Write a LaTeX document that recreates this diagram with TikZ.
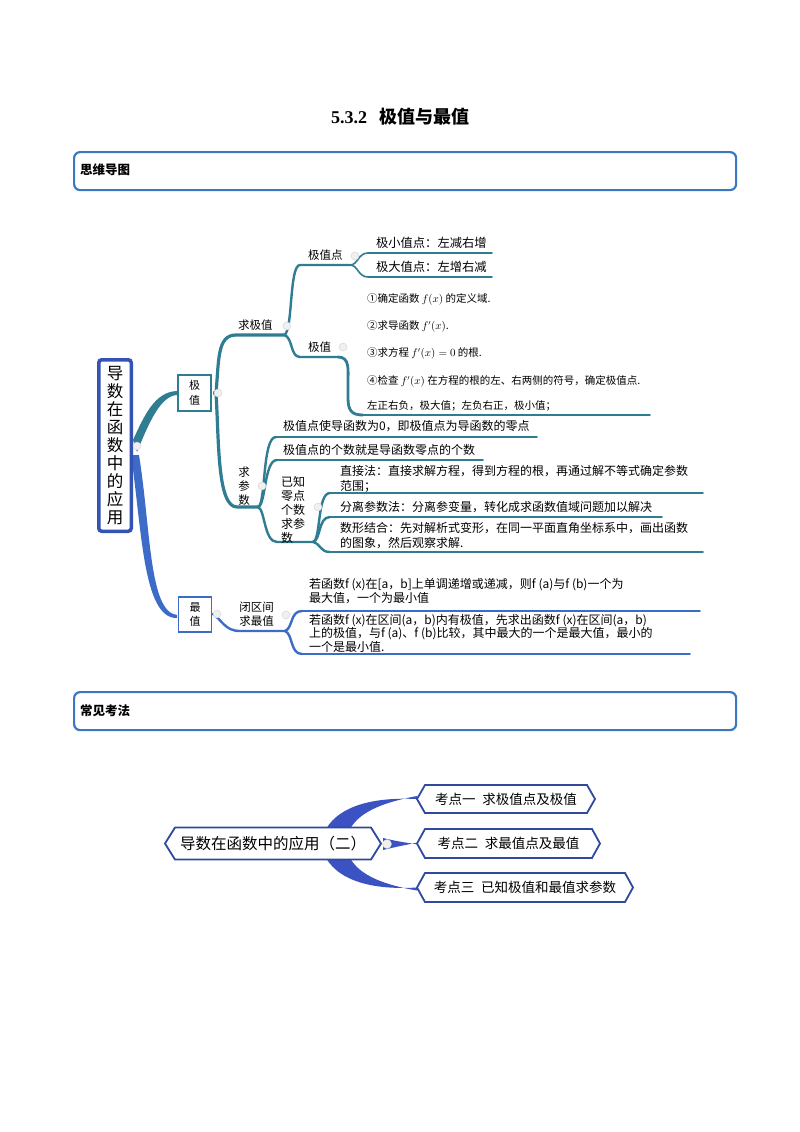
\documentclass[tikz,border=0pt]{standalone}
\usepackage{fontspec}
\setmainfont{Noto Sans CJK SC}
\newfontfamily\tnr{Liberation Serif}
\usetikzlibrary{calc}
\pgfdeclarelayer{bg}
\pgfsetlayers{bg,main}
\definecolor{hdr}{HTML}{3B78C2}
\definecolor{mainb}{HTML}{3552B5}
\definecolor{tealb}{HTML}{2E7D91}
\definecolor{blu}{HTML}{3C6CC8}
\definecolor{bblu}{HTML}{3B52C2}
\definecolor{dblu}{HTML}{2F4A9C}
\tikzset{
 txt/.style={anchor=west,inner sep=0pt,outer sep=0pt,font=\fontsize{12}{15}\selectfont,align=left},
 stp/.style={anchor=west,inner sep=0pt,outer sep=0pt,font=\fontsize{10.5}{13}\selectfont},
 lbl/.style={inner sep=0pt,outer sep=0pt,font=\fontsize{11.5}{14}\selectfont,align=center},
 tline/.style={draw=tealb,line width=1.6pt,line cap=round},
 tcurve/.style={draw=tealb,line width=2.4pt,line cap=round},
 bline/.style={draw=blu,line width=1.6pt,line cap=round},
 bcurve/.style={draw=blu,line width=2.4pt,line cap=round},
 dot/.style={circle,fill=gray!12,draw=gray!35,line width=0.4pt,minimum size=8pt,inner sep=0pt},
 hdrbox/.style={draw=hdr,line width=2.2pt,rounded corners=6pt,minimum width=662pt,minimum height=38pt,anchor=north west,inner sep=0pt},
 hdrtxt/.style={anchor=west,inner sep=0pt,font=\bfseries\fontsize{12.5}{14}\selectfont},
 hexb/.style={draw=dblu,line width=1.8pt,fill=white},
 hexnode/.style={inner sep=0pt,outer sep=0pt,align=center},
 smallbox/.style={line width=1.8pt,minimum width=33pt,minimum height=36pt,inner sep=0pt,align=center,fill=white,font=\fontsize{11}{15.5}\selectfont},
}
\begin{document}
\begin{tikzpicture}[x=1pt,y=-1pt]
\useasboundingbox (0,0) rectangle (800,1132);
\begin{pgfonlayer}{bg}
\fill[white] (0,0) rectangle (800,1132);
\end{pgfonlayer}

% title
\node[inner sep=0pt] (title) at (400,117) {\bfseries\fontsize{18}{20}\selectfont{\tnr 5.3.2}\hspace{12pt}极值与最值};

% header boxes
\node[hdrbox] (h1) at (73,151) {};
\node[hdrtxt] (h1t) at (80,170) {思维导图};
\node[hdrbox] (h2) at (73,691) {};
\node[hdrtxt] (h2t) at (80,711) {常见考法};

% ---------- mind map ----------
% root to branches (tapered)
\fill[tealb] (133,440) .. controls (145,414) and (155,392) .. (177,391)
  -- (177,395) .. controls (161,396) and (150,420) .. (137,452) -- cycle;
\fill[blu] (131,455) .. controls (142,530) and (143,619) .. (177,618)
  -- (177,615) .. controls (149,612) and (151,530) .. (139,455) -- cycle;

\node[draw=mainb,line width=3.5pt,rounded corners=3pt,minimum width=32.5pt,minimum height=171.5pt,inner sep=0pt,fill=white,align=center,font=\fontsize{16.5}{18.1}\selectfont] (root) at (115,445.5) {导\\数\\在\\函\\数\\中\\的\\应\\用};

% 极值 branch
\coordinate (jzs) at (213,393);
\coordinate (qjz) at (284,335);
\coordinate (qcs) at (258,507);
\draw[draw=tealb,line width=3.2pt] (jzs) -- (216,393) .. controls (219,360) and (217,335) .. (236,335) -- (qjz);
\draw[draw=tealb,line width=3.2pt] (216,393) .. controls (219,440) and (217,507) .. (237,507) -- (qcs);

\node[smallbox,draw=tealb] (jz) at (194.5,393) {极\\值};

% 求极值 fork
\coordinate (jzd) at (350,265);
\coordinate (jzv) at (338,357);
\draw[tcurve] (qjz) .. controls (293,333) and (289,265) .. (300,265) -- (jzd);
\draw[tcurve] (qjz) .. controls (293,337) and (290,357) .. (300,357) -- (jzv);
\node[lbl,anchor=west] (lqjz) at (238,325) {求极值};
\node[lbl,anchor=west] (ljzd) at (308,255) {极值点};
\node[lbl,anchor=west] (ljzv) at (308,347) {极值};

% 极值点 children
\draw[tline] (jzd) .. controls (358,265) and (358,253) .. (368,253) -- (492,253);
\draw[tline] (jzd) .. controls (358,265) and (358,277) .. (368,277) -- (492,277);
\node[txt,font=\fontsize{12.3}{15}\selectfont] (n1) at (376,243) {极小值点：左减右增};
\node[txt,font=\fontsize{12.3}{15}\selectfont] (n2) at (376,267) {极大值点：左增右减};

% 极值 steps
\draw[draw=tealb,line width=2.8pt,line cap=round] (jzv) .. controls (350,357) and (348,370) .. (348,382) -- (348,398) .. controls (348,411) and (352,415) .. (363,415);
\draw[tline] (362,415) -- (650,415);
\node[stp] (s1) at (367,299) {①确定函数 $f(x)$ 的定义域.};
\node[stp] (s2) at (367,326) {②求导函数 $f'(x)$.};
\node[stp] (s3) at (367,353) {③求方程 $f'(x)=0$ 的根.};
\node[stp] (s4) at (367,381) {④检查 $f'(x)$ 在方程的根的左、右两侧的符号，确定极值点.};
\node[stp] (s5) at (367,406) {左正右负，极大值；左负右正，极小值；};

% 求参数 fork
\coordinate (zl) at (313,542);
\draw[tcurve] (qcs) .. controls (266,505) and (262,437) .. (276,437);
\draw[tline] (276,437) -- (537,437);
\draw[tcurve] (qcs) .. controls (266,505) and (264,460) .. (277,460);
\draw[tline] (277,460) -- (483,460);
\draw[tcurve] (qcs) .. controls (265,509) and (264,542) .. (277,542) -- (zl);
\node[lbl] (lqcs) at (244,486) {求\\参\\数};
\node[txt] (p1) at (283,426) {极值点使导函数为0，即极值点为导函数的零点};
\node[txt] (p2) at (283,450) {极值点的个数就是导函数零点的个数};
\node[txt,font=\fontsize{12}{14}\selectfont] (p3) at (281,510) {已知\\零点\\个数\\求参\\数};

% 已知零点个数求参数 children
\draw[tcurve] (zl) .. controls (321,540) and (317,493) .. (330,493);
\draw[tline] (330,493) -- (703,493);
\draw[tcurve] (zl) .. controls (321,540) and (318,517) .. (330,517);
\draw[tline] (330,517) -- (662,517);
\draw[tcurve] (zl) .. controls (321,544) and (320,552) .. (330,552);
\draw[tline] (330,552) -- (703,552);
\node[txt] (q1) at (340,479) {直接法：直接求解方程，得到方程的根，再通过解不等式确定参数\\范围；};
\node[txt] (q2) at (340,507) {分离参数法：分离参变量，转化成求函数值域问题加以解决};
\node[txt] (q3) at (340,535.5) {数形结合：先对解析式变形，在同一平面直角坐标系中，画出函数\\的图象，然后观察求解.};

% 最值 branch
\coordinate (qzz) at (285,631);
\draw[bcurve] (213,614) .. controls (222,620) and (225,631) .. (240,631) -- (qzz);
\node[smallbox,draw=blu,minimum height=35pt,font=\fontsize{11}{14.5}\selectfont] (zz) at (195,614.5) {最\\值};
\draw[bcurve] (qzz) .. controls (293,628) and (290,611) .. (302,611);
\draw[bline] (302,611) -- (700,611);
\draw[bcurve] (qzz) .. controls (293,634) and (290,654) .. (302,654);
\draw[bline] (302,654) -- (690,654);
\node[lbl] (lqzz) at (256.5,614.5) {闭区间\\求最值};
\node[txt,font=\fontsize{12}{14}\selectfont] (r1) at (309,591) {若函数f (x)在[a，b]上单调递增或递减，则f (a)与f (b)一个为\\最大值，一个为最小值};
\node[txt,font=\fontsize{12}{13.5}\selectfont] (r2) at (309,633) {若函数f (x)在区间(a，b)内有极值，先求出函数f (x)在区间(a，b)\\上的极值，与f (a)、f (b)比较，其中最大的一个是最大值，最小的\\一个是最小值.};

% dots
\node[dot] (d1) at (137,446) {};
\node[dot] (d2) at (218,393) {};
\node[dot] (d3) at (287,326) {};
\node[dot] (d4) at (355,256) {};
\node[dot] (d5) at (343,347) {};
\node[dot] (d6) at (262,486) {};
\node[dot] (d7) at (318,507) {};
\node[dot] (d8) at (217,614) {};
\node[dot] (d9) at (286,615) {};

% ---------- bottom diagram ----------
\node[hexnode,minimum width=216pt,minimum height=32pt,font=\fontsize{15.5}{18}\selectfont] (k0) at (273,843.5) {导数在函数中的应用（二）};
\node[hexnode,minimum width=178pt,minimum height=28pt,font=\fontsize{13.5}{16}\selectfont] (k1) at (506,799) {考点一\hspace{0.5em}求极值点及极值};
\node[hexnode,minimum width=183pt,minimum height=29pt,font=\fontsize{13.5}{16}\selectfont] (k2) at (508.5,843.5) {考点二\hspace{0.5em}求最值点及最值};
\node[hexnode,minimum width=216pt,minimum height=29pt,font=\fontsize{13.5}{16}\selectfont] (k3) at (525,887.5) {考点三\hspace{0.5em}已知极值和最值求参数};
\begin{pgfonlayer}{bg}
\fill[bblu] (326,829) .. controls (340,805) and (375,797) .. (k1.west) -- ([yshift=3pt]k1.west) .. controls (385,802) and (360,811) .. (350,829) -- cycle;
\fill[bblu] (326,858) .. controls (340,882) and (375,890) .. (k3.west) -- ([yshift=-3pt]k3.west) .. controls (385,885) and (360,876) .. (350,858) -- cycle;
\fill[bblu] (383,838) .. controls (395,841) and (405,842.5) .. ([yshift=-0.8pt]k2.west) -- ([yshift=0.8pt]k2.west) .. controls (405,845) and (395,847) .. (383,850) -- cycle;
\foreach \n/\c in {k0/10,k1/8,k2/8,k3/8}{
  \filldraw[hexb] (\n.west) -- ([xshift=\c pt]\n.north west) -- ([xshift=-\c pt]\n.north east) -- (\n.east) -- ([xshift=-\c pt]\n.south east) -- ([xshift=\c pt]\n.south west) -- cycle;
}
\end{pgfonlayer}
\node[dot,minimum size=9pt] (d10) at (387,844) {};

\end{tikzpicture}
\end{document}
